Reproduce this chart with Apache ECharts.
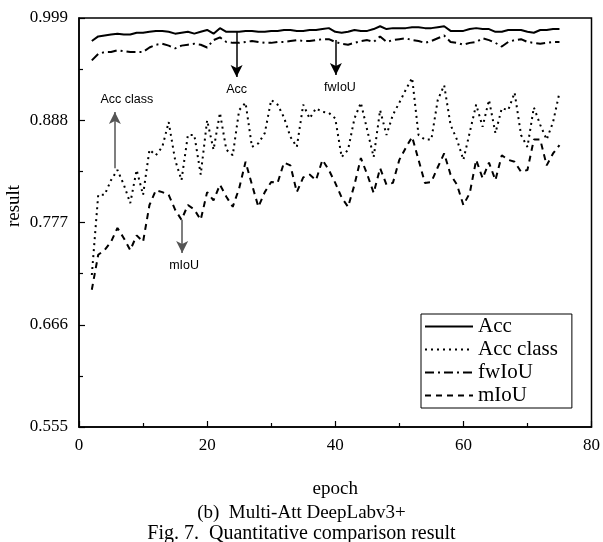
<!DOCTYPE html>
<html>
<head>
<meta charset="utf-8">
<script src="https://cdn.jsdelivr.net/npm/echarts@6/dist/echarts.min.js"></script>
<style>
  html, body { margin: 0; padding: 0; background: #fff; }
  #chart { width: 603px; height: 542px; }
</style>
</head>
<body>
<div id="chart"></div>
<script>
  const epochs = [2, 3, 4, 5, 6, 7, 8, 9, 10, 11, 12, 13, 14, 15, 16, 17, 18, 19, 20, 21,
    22, 23, 24, 25, 26, 27, 28, 29, 30, 31, 32, 33, 34, 35, 36, 37, 38, 39, 40, 41,
    42, 43, 44, 45, 46, 47, 48, 49, 50, 51, 52, 53, 54, 55, 56, 57, 58, 59, 60, 61,
    62, 63, 64, 65, 66, 67, 68, 69, 70, 71, 72, 73, 74, 75];

  const acc = [0.974, 0.979, 0.980, 0.981, 0.982, 0.981, 0.981, 0.983, 0.983, 0.984,
    0.985, 0.985, 0.984, 0.982, 0.983, 0.984, 0.982, 0.984, 0.986, 0.982,
    0.988, 0.984, 0.984, 0.984, 0.985, 0.985, 0.984, 0.984, 0.985, 0.985,
    0.986, 0.986, 0.985, 0.985, 0.986, 0.986, 0.987, 0.988, 0.984, 0.983,
    0.984, 0.986, 0.985, 0.985, 0.987, 0.990, 0.987, 0.988, 0.988, 0.988,
    0.989, 0.989, 0.988, 0.988, 0.989, 0.990, 0.985, 0.985, 0.985, 0.987,
    0.988, 0.987, 0.987, 0.984, 0.984, 0.986, 0.986, 0.986, 0.984, 0.983,
    0.986, 0.986, 0.987, 0.987];

  const accClass = [0.720, 0.807, 0.807, 0.823, 0.834, 0.818, 0.798, 0.834, 0.807, 0.856,
    0.850, 0.859, 0.886, 0.845, 0.823, 0.872, 0.872, 0.829, 0.888, 0.856,
    0.896, 0.856, 0.850, 0.899, 0.907, 0.859, 0.863, 0.874, 0.910, 0.905,
    0.891, 0.870, 0.859, 0.905, 0.890, 0.901, 0.897, 0.896, 0.890, 0.848,
    0.856, 0.890, 0.907, 0.877, 0.848, 0.899, 0.872, 0.894, 0.907, 0.921,
    0.934, 0.872, 0.867, 0.867, 0.910, 0.926, 0.883, 0.867, 0.845, 0.875,
    0.905, 0.881, 0.910, 0.874, 0.901, 0.899, 0.918, 0.872, 0.859, 0.902,
    0.883, 0.867, 0.886, 0.918];

  const fwIoU = [0.953, 0.960, 0.962, 0.962, 0.964, 0.963, 0.962, 0.962, 0.962, 0.967,
    0.970, 0.971, 0.969, 0.966, 0.969, 0.970, 0.971, 0.970, 0.967, 0.975,
    0.978, 0.973, 0.972, 0.972, 0.973, 0.974, 0.973, 0.972, 0.972, 0.973,
    0.973, 0.974, 0.975, 0.974, 0.974, 0.975, 0.976, 0.976, 0.973, 0.971,
    0.970, 0.972, 0.974, 0.975, 0.973, 0.979, 0.973, 0.975, 0.976, 0.977,
    0.975, 0.974, 0.972, 0.974, 0.977, 0.980, 0.973, 0.972, 0.970, 0.972,
    0.973, 0.977, 0.975, 0.972, 0.968, 0.973, 0.975, 0.976, 0.973, 0.972,
    0.971, 0.972, 0.973, 0.973];

  const mIoU = [0.704, 0.742, 0.747, 0.756, 0.771, 0.760, 0.747, 0.763, 0.756, 0.796,
    0.812, 0.810, 0.807, 0.791, 0.780, 0.796, 0.791, 0.780, 0.810, 0.801,
    0.818, 0.805, 0.794, 0.814, 0.843, 0.818, 0.794, 0.810, 0.821, 0.820,
    0.842, 0.839, 0.810, 0.826, 0.829, 0.823, 0.845, 0.834, 0.820, 0.804,
    0.794, 0.818, 0.847, 0.829, 0.809, 0.836, 0.818, 0.820, 0.845, 0.858,
    0.870, 0.845, 0.820, 0.821, 0.837, 0.852, 0.829, 0.818, 0.796, 0.809,
    0.845, 0.825, 0.842, 0.823, 0.850, 0.845, 0.843, 0.832, 0.834, 0.867,
    0.867, 0.839, 0.852, 0.861];

  // arrow annotations: [label, x, yFrom, yTo, colour, label shift]
  const notes = [
    ['Acc', 24.6, 0.984, 0.935, '#000', 0],
    ['fwIoU', 40.1, 0.975, 0.937, '#000', 4],
    ['Acc class', 5.6, 0.836, 0.897, '#555', 12],
    ['mIoU', 16.1, 0.780, 0.744, '#555', 2]
  ];

  const serif = '"Liberation Serif", "Times New Roman", serif';
  const pairs = vals => epochs.map((e, i) => [e, vals[i]]);

  function noteLine(n) {
    return {
      silent: true,
      animation: false,
      symbol: ['none', 'arrow'],
      symbolSize: 10,
      itemStyle: { color: n[4] },
      lineStyle: { color: n[4], type: 'solid', width: 1.5 },
      label: {
        show: true, position: 'end', formatter: n[0], distance: 6, offset: [n[5], 0],
        fontFamily: '"Liberation Sans", Arial, sans-serif', fontSize: 12.5, color: '#000'
      },
      data: [[
        { coord: [n[1], n[2]], symbol: 'none' },
        { coord: [n[1], n[3]], symbol: 'arrow', symbolSize: [9, 12] }
      ]]
    };
  }

  const chart = echarts.init(document.getElementById('chart'));
  chart.setOption({
    animation: false,
    grid: { left: 79, right: 11, top: 18, bottom: 115, show: true, borderColor: '#000', borderWidth: 1.5 },
    legend: {
      orient: 'vertical', left: 421, top: 314,
      data: ['Acc', 'Acc class', 'fwIoU', 'mIoU'],
      backgroundColor: '#fff', borderColor: '#000', borderWidth: 1,
      padding: [2, 14, 2, 3], itemGap: 2, itemWidth: 48, itemHeight: 16,
      itemStyle: { opacity: 0 },
      textStyle: { fontFamily: serif, fontSize: 21, color: '#000' }
    },
    xAxis: {
      type: 'value', min: 0, max: 80, interval: 20,
      name: 'epoch', nameLocation: 'middle', nameGap: 53,
      nameTextStyle: { fontFamily: serif, fontSize: 19, color: '#000' },
      axisLine: { lineStyle: { color: '#000', width: 1.5 } },
      axisTick: { inside: true, length: 6, lineStyle: { color: '#000', width: 1.2 } },
      minorTick: { show: true, splitNumber: 2, length: 4, lineStyle: { color: '#000', width: 1.2 } },
      splitLine: { show: false },
      axisLabel: { fontFamily: serif, fontSize: 17, color: '#000', margin: 10 }
    },
    yAxis: {
      type: 'value', min: 0.555, max: 0.999, interval: 0.111,
      axisLine: { lineStyle: { color: '#000', width: 1.5 } },
      axisTick: { inside: true, length: 6, lineStyle: { color: '#000', width: 1.2 } },
      minorTick: { show: true, splitNumber: 2, length: 4, lineStyle: { color: '#000', width: 1.2 } },
      splitLine: { show: false },
      axisLabel: { fontFamily: serif, fontSize: 17, color: '#000', margin: 11, formatter: v => v.toFixed(3) }
    },
    graphic: [
      { type: 'text', x: 14, y: 206, rotation: Math.PI / 2,
        style: { text: 'result', font: '19px ' + serif, fill: '#000', align: 'center', verticalAlign: 'middle' } },
      { type: 'text', left: 'center', top: 504, style: { text: '(b)  Multi-Att DeepLabv3+', font: '19px ' + serif, fill: '#000' } },
      { type: 'text', left: 'center', top: 524, style: { text: 'Fig. 7.  Quantitative comparison result', font: '20px ' + serif, fill: '#000' } }
    ],
    series: [
      { name: 'Acc', type: 'line', symbol: 'none', data: pairs(acc), color: '#000',
        lineStyle: { color: '#000', width: 2, type: 'solid' }, markLine: noteLine(notes[0]) },
      { name: 'Acc class', type: 'line', symbol: 'none', data: pairs(accClass), color: '#000',
        lineStyle: { color: '#000', width: 2, type: [2, 4] }, markLine: noteLine(notes[2]) },
      { name: 'fwIoU', type: 'line', symbol: 'none', data: pairs(fwIoU), color: '#000',
        lineStyle: { color: '#000', width: 2, type: [9, 4, 2, 4] }, markLine: noteLine(notes[1]) },
      { name: 'mIoU', type: 'line', symbol: 'none', data: pairs(mIoU), color: '#000',
        lineStyle: { color: '#000', width: 2, type: [6, 5] }, markLine: noteLine(notes[3]) }
    ]
  });
</script>
</body>
</html>
